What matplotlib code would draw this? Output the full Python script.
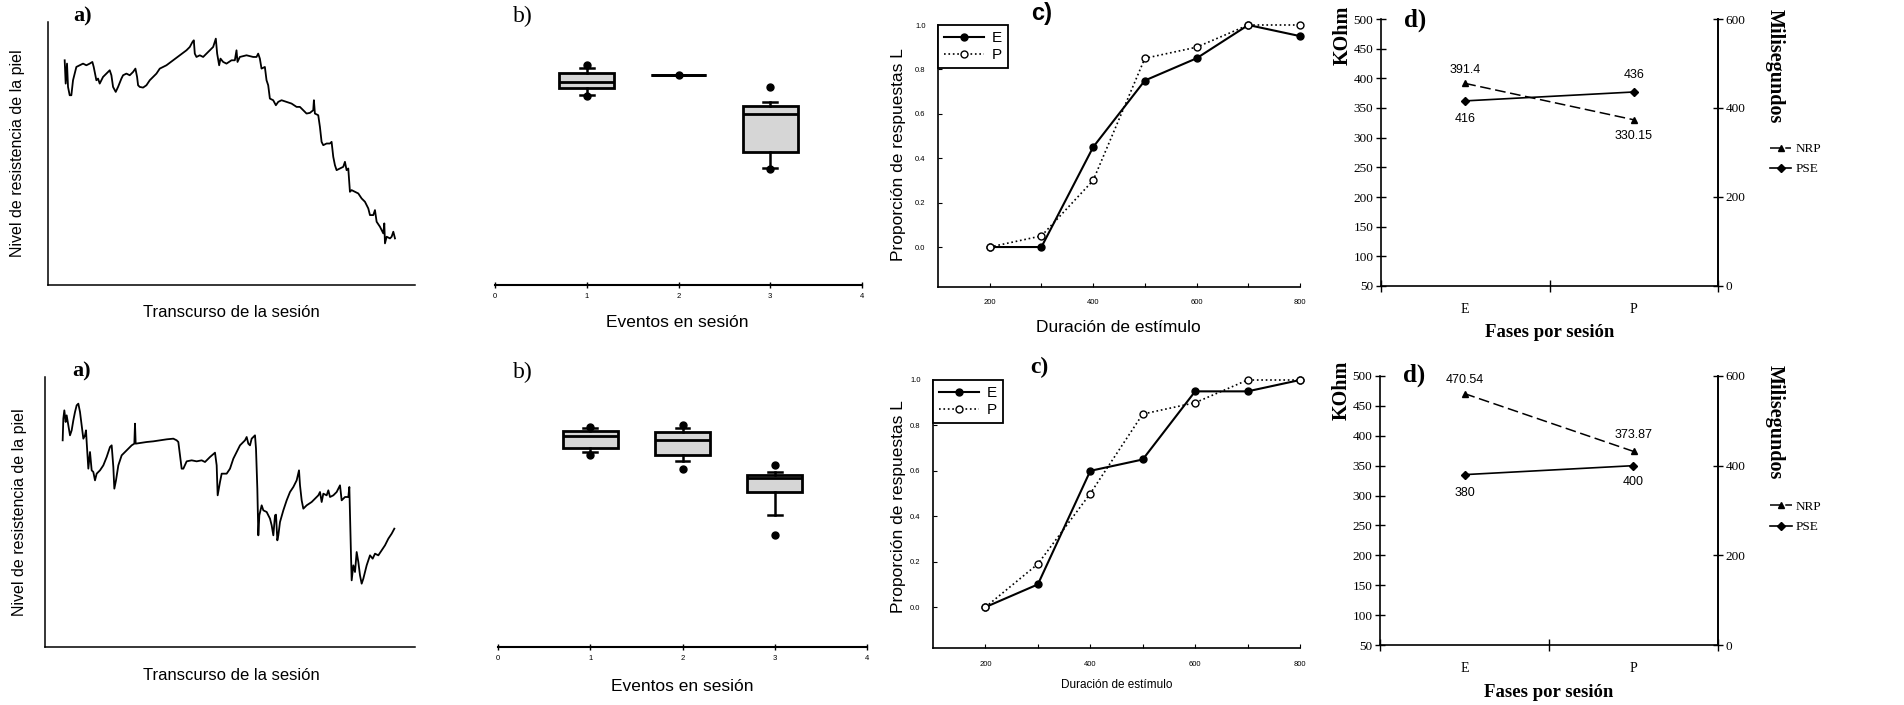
import matplotlib
matplotlib.use('Agg')
import matplotlib.pyplot as plt
import numpy as np

SANS = ['Liberation Sans', 'DejaVu Sans']
SERIF = ['Liberation Serif', 'DejaVu Serif']
plt.rcParams['font.family'] = SANS

# ---------------- data ----------------
# a) skin resistance trace (arbitrary units read off the picture)
trace1_x = [50, 53, 57, 60, 65, 70, 75, 85, 95, 105, 115, 125, 133, 137, 145, 150, 155, 165, 175, 185, 190, 195, 203, 210,
            220, 225, 235, 245, 255, 262, 267, 270, 275, 285, 295, 305, 325, 335, 355, 375, 395, 415, 425, 433, 437, 440,
            445, 455, 465, 475, 495, 503, 507, 513, 517, 525, 535, 550, 560, 565, 568, 575, 595, 615, 625, 630, 635, 640,
            650, 655, 660, 665, 675, 683, 690, 700, 715, 730, 745, 755, 765, 775, 785, 795, 797, 800, 810, 815, 820, 825,
            835, 845, 850, 855, 860, 865, 875, 885, 890, 895, 900, 905, 910, 920, 930, 940, 950, 960, 965, 975, 980, 985,
            995, 1005, 1008, 1010, 1015, 1025, 1030, 1035, 1040]
trace1_y = [675, 605, 665, 595, 570, 570, 615, 655, 660, 665, 660, 665, 670, 655, 615, 620, 605, 625, 635, 645, 630, 595,
            580, 595, 620, 630, 635, 630, 640, 650, 625, 600, 595, 593, 600, 615, 635, 650, 660, 675, 690, 705, 715, 730,
            735, 695, 685, 690, 685, 695, 715, 740, 695, 660, 680, 670, 665, 675, 675, 705, 670, 685, 690, 685, 685, 695,
            680, 650, 655, 615, 600, 560, 555, 540, 550, 555, 550, 545, 535, 535, 525, 515, 517, 525, 555, 515, 510, 475,
            430, 420, 425, 425, 430, 385, 360, 345, 350, 355, 370, 345, 350, 280, 285, 280, 275, 260, 250, 230, 210, 210,
            225, 190, 175, 155, 185, 125, 145, 140, 145, 160, 140]
trace2_x = [53, 55, 58, 62, 65, 70, 75, 80, 85, 90, 95, 100, 105, 110, 115, 120, 123, 125, 130, 135, 140, 145, 150, 155,
            165, 175, 185, 195, 200, 205, 208, 213, 220, 230, 245, 260, 268, 270, 272, 285, 305, 325, 345, 365, 385, 395,
            400, 405, 410, 415, 425, 440, 455, 470, 480, 495, 510, 515, 518, 525, 530, 545, 555, 565, 585, 600, 605, 610,
            615, 620, 630, 633, 637, 640, 643, 650, 655, 665, 675, 680, 685, 690, 693, 697, 700, 705, 715, 725, 735, 745,
            755, 762, 765, 770, 775, 785, 800, 810, 820, 825, 830, 835, 845, 850, 855, 865, 875, 885, 890, 900, 910, 913,
            915, 918, 920, 925, 930, 935, 940, 945, 950, 955, 965, 975, 983, 990, 1000, 1010, 1020, 1030, 1040, 1048]
trace2_y = [620, 685, 710, 675, 695, 665, 635, 650, 680, 705, 725, 730, 705, 665, 625, 635, 650, 615, 535, 585, 530, 525,
            500, 520, 530, 545, 570, 600, 605, 540, 475, 500, 545, 575, 590, 605, 610, 670, 610, 612, 615, 617, 620, 623,
            625, 620, 615, 575, 535, 535, 557, 560, 557, 560, 555, 570, 583, 545, 455, 495, 520, 520, 535, 565, 605, 620,
            630, 610, 605, 625, 635, 595, 475, 335, 395, 425, 410, 405, 385, 365, 335, 395, 397, 320, 335, 375, 410, 440,
            465, 480, 500, 530, 485, 440, 415, 425, 435, 445, 455, 465, 435, 460, 455, 470, 450, 455, 465, 485, 440, 450,
            450, 480, 395, 275, 200, 245, 225, 285, 255, 215, 190, 205, 245, 275, 265, 280, 275, 290, 305, 325, 340, 355]

# b) box plots: events in session
events = [1, 2, 3]
b1_q1 = [0.749, 0.798, 0.506]
b1_med = [0.772, 0.798, 0.650]
b1_q3 = [0.806, 0.798, 0.681]
b1_lo = [0.722, 0.798, 0.445]
b1_hi = [0.825, 0.798, 0.696]
b1_fliers = [[0.835, 0.718], [0.798], [0.753, 0.440]]
b2_q1 = [0.737, 0.711, 0.574]
b2_med = [0.781, 0.767, 0.626]
b2_q3 = [0.800, 0.796, 0.637]
b2_lo = [0.722, 0.689, 0.489]
b2_hi = [0.811, 0.810, 0.648]
b2_fliers = [[0.815, 0.711], [0.822, 0.659], [0.674, 0.415]]
b_ticks = [0, 1, 2, 3, 4]

# c) proportion of L responses vs stimulus duration
duration = [200, 300, 400, 500, 600, 700, 800]
c1_E = [0.0, 0.0, 0.45, 0.75, 0.85, 1.0, 0.95]
c1_P = [0.0, 0.05, 0.30, 0.85, 0.90, 1.0, 1.0]
c2_E = [0.0, 0.10, 0.60, 0.65, 0.95, 0.95, 1.0]
c2_P = [0.0, 0.19, 0.50, 0.85, 0.90, 1.0, 1.0]

# d) phases per session
phases = ['E', 'P']
d1_nrp = [391.4, 330.15]
d1_pse = [416, 436]
d1_nrp_lbl = ['391.4', '330.15']
d1_pse_lbl = ['416', '436']
d2_nrp = [470.54, 373.87]
d2_pse = [380, 400]
d2_nrp_lbl = ['470.54', '373.87']
d2_pse_lbl = ['380', '400']

# ---------------- layout ----------------
W, H = 1904, 705
fig = plt.figure(figsize=(W / 100, H / 100), dpi=100)


def rect(l, t, r, b):
    return [l / W, 1 - b / H, (r - l) / W, (b - t) / H]


def panel_a(pos, x, y, xlim, ylim, lblxy, ylc, xlc):
    ax = fig.add_axes(pos)
    ax.plot(x, y, color='black', lw=1.3)
    ax.set_xlim(*xlim)
    ax.set_ylim(*ylim)
    ax.set_xticks([])
    ax.set_yticks([])
    for s in ['top', 'right']:
        ax.spines[s].set_visible(False)
    for s in ['left', 'bottom']:
        ax.spines[s].set_linewidth(1.1)
    ax.set_ylabel('Nivel de resistencia de la piel', fontsize=11.5, va='center')
    ax.yaxis.set_label_coords(*ylc)
    ax.set_xlabel('Transcurso de la sesión', fontsize=12, va='center')
    ax.xaxis.set_label_coords(*xlc)
    ax.text(lblxy[0], lblxy[1], 'a)', transform=ax.transAxes, fontsize=16, fontweight='bold',
            family=SERIF, ha='center', va='center')
    return ax


panel_a(rect(48, 22, 415, 285), trace1_x, trace1_y, (0, 1100), (0, 790), (0.093, 1.02), (-0.082, 0.5), (0.5, -0.106))
panel_a(rect(45, 377, 415, 647), trace2_x, trace2_y, (0, 1110), (0, 810), (0.10, 1.02), (-0.068, 0.5), (0.505, -0.104))


def panel_b(pos, q1, med, q3, lo, hi, fl, lblxy, xlc):
    ax = fig.add_axes(pos)
    stats = []
    for i in range(len(events)):
        stats.append(dict(q1=q1[i], med=med[i], q3=q3[i], whislo=lo[i], whishi=hi[i], fliers=fl[i]))
    ax.bxp(stats, positions=events, widths=0.6, patch_artist=True, capwidths=0.15,
           boxprops=dict(facecolor='#d6d6d6', edgecolor='black', lw=2),
           medianprops=dict(color='black', lw=2),
           whiskerprops=dict(color='black', lw=1.8),
           capprops=dict(color='black', lw=1.8),
           flierprops=dict(marker='o', markerfacecolor='black', markeredgecolor='black', markersize=5),
           manage_ticks=False)
    ax.set_xlim(0, 4)
    ax.set_ylim(0, 1)
    ax.set_xticks(b_ticks)
    ax.set_xticklabels([str(t) for t in b_ticks], fontsize=5.5)
    ax.set_yticks([])
    for s in ['top', 'right', 'left']:
        ax.spines[s].set_visible(False)
    ax.spines['bottom'].set_linewidth(1.5)
    ax.tick_params(axis='x', direction='inout', length=5, width=1, pad=3)
    ax.set_xlabel('Eventos en sesión', fontsize=12.5, va='center')
    ax.xaxis.set_label_coords(*xlc)
    ax.text(lblxy[0], lblxy[1], 'b)', transform=ax.transAxes, fontsize=17,
            family=SERIF, ha='center', va='center')


panel_b(rect(495, 22, 862, 285), b1_q1, b1_med, b1_q3, b1_lo, b1_hi, b1_fliers, (0.076, 1.02), (0.496, -0.144))
panel_b(rect(498, 377, 867, 647), b2_q1, b2_med, b2_q3, b2_lo, b2_hi, b2_fliers, (0.068, 1.015), (0.50, -0.148))


def panel_c(pos, E, P, lblxy, lbl_family, ylc, xlc, xl_size):
    ax = fig.add_axes(pos)
    ax.plot(duration, E, '-o', color='black', mfc='black', ms=5, lw=1.5, label='E', clip_on=False, zorder=3)
    ax.plot(duration, P, ':o', color='black', mfc='white', ms=5, lw=1.2, label='P', clip_on=False, zorder=4)
    ax.set_xlim(100, 800)
    ax.set_ylim(-0.18, 1.0)
    ax.set_xticks([200, 400, 600, 800])
    ax.set_xticks([300, 500, 700], minor=True)
    ax.set_yticks([0.0, 0.2, 0.4, 0.6, 0.8, 1.0])
    ax.set_yticklabels(['0.0', '0.2', '0.4', '0.6', '0.8', '1.0'], fontsize=5.5)
    ax.set_xticklabels(['200', '400', '600', '800'], fontsize=5.5)
    ax.tick_params(axis='both', which='both', direction='in', length=3, width=0.8, pad=9)
    for s in ['top', 'right']:
        ax.spines[s].set_visible(False)
    for s in ['left', 'bottom']:
        ax.spines[s].set_linewidth(1.2)
    leg = ax.legend(loc='upper left', bbox_to_anchor=(0, 1), borderaxespad=0, fontsize=11,
                    fancybox=False, edgecolor='black', framealpha=1, handlelength=2.6,
                    borderpad=0.4, labelspacing=0.2, handletextpad=0.5)
    leg.get_frame().set_linewidth(1.3)
    ax.set_ylabel('Proporción de respuestas L', fontsize=12.5, va='center')
    ax.yaxis.set_label_coords(*ylc)
    ax.set_xlabel('Duración de estímulo', fontsize=xl_size, va='center')
    ax.xaxis.set_label_coords(*xlc)
    ax.text(lblxy[0], lblxy[1], 'c)', transform=ax.transAxes, fontsize=17, fontweight='bold',
            family=lbl_family, ha='center', va='center')


panel_c(rect(938, 25, 1300, 287), c1_E, c1_P, (0.287, 1.042), SANS, (-0.11, 0.504), (0.497, -0.156), 12.5)
panel_c(rect(933, 380, 1300, 648), c2_E, c2_P, (0.29, 1.045), SERIF, (-0.095, 0.526), (0.50, -0.138), 8.5)


def panel_d(pos, nrp, pse, nrp_lbl, pse_lbl, nrp_off, pse_off, lbly):
    ax = fig.add_axes(pos)
    xs = np.arange(len(phases)) + 0.5
    l1, = ax.plot(xs, nrp, color='black', lw=1.1, ls=(0, (7, 3)), marker='^', ms=5, label='NRP', clip_on=False)
    ax.set_xlim(0, 2)
    ax.set_ylim(50, 500)
    ax.set_yticks(np.arange(50, 501, 50))
    ax.set_yticklabels([str(v) for v in range(50, 501, 50)], family=SERIF, fontsize=9.5)
    ax.set_xticks([0, 1, 2])
    ax.set_xticklabels(['', '', ''])
    ax.set_xticks(xs, minor=True)
    ax.set_xticklabels(phases, minor=True, family=SERIF, fontsize=10)
    ax.tick_params(axis='x', which='minor', length=0, pad=12)
    ax.tick_params(axis='x', which='major', direction='inout', length=8, width=1)
    ax.tick_params(axis='y', direction='inout', length=7, width=1, pad=2)
    ax.spines['top'].set_visible(False)
    ax.spines['right'].set_visible(False)
    for s in ['left', 'bottom']:
        ax.spines[s].set_linewidth(1.2)
    ax2 = ax.twinx()
    l2, = ax2.plot(xs, pse, color='black', lw=1.2, ls='-', marker='D', ms=4.5, label='PSE', clip_on=False)
    ax2.set_ylim(0, 600)
    ax2.set_yticks([0, 200, 400, 600])
    ax2.set_yticklabels(['0', '200', '400', '600'], family=SERIF, fontsize=9.5)
    ax2.tick_params(axis='y', direction='inout', length=7, width=1, pad=2)
    for s in ['top', 'left', 'bottom']:
        ax2.spines[s].set_visible(False)
    ax2.spines['right'].set_linewidth(1.4)
    for i in range(len(phases)):
        ax.annotate(nrp_lbl[i], (xs[i], nrp[i]), textcoords='offset points', xytext=(0, nrp_off[i]),
                    ha='center', va='center', fontsize=9)
        ax2.annotate(pse_lbl[i], (xs[i], pse[i]), textcoords='offset points', xytext=(0, pse_off[i]),
                     ha='center', va='center', fontsize=9)
    ax.text(-0.113, lbly[0], 'KOhm', transform=ax.transAxes, rotation=90, family=SERIF, fontsize=14.5,
            fontweight='bold', ha='center', va='center')
    ax.text(1.169, lbly[1], 'Milisegundos', transform=ax.transAxes, rotation=-90, family=SERIF, fontsize=14.5,
            fontweight='bold', ha='center', va='center')
    ax.set_xlabel('Fases por sesión', family=SERIF, fontsize=13.5, fontweight='bold', va='center')
    ax.xaxis.set_label_coords(0.5, -0.176)
    ax.text(0.10, lbly[2], 'd)', transform=ax.transAxes, family=SERIF, fontsize=18, fontweight='bold',
            ha='center', va='center')
    ax.legend(handles=[l1, l2], loc='upper left', bbox_to_anchor=(1.12, 0.58), frameon=False,
              prop={'family': SERIF, 'size': 9.5}, handlelength=1.6, handletextpad=0.3, labelspacing=0.6)


panel_d(rect(1381, 19, 1718, 286), d1_nrp, d1_pse, d1_nrp_lbl, d1_pse_lbl, (10, -12), (-13, 12), (0.94, 0.824, 0.996))
panel_d(rect(1380, 376, 1718, 645), d2_nrp, d2_pse, d2_nrp_lbl, d2_pse_lbl, (10, 12), (-13, -12), (0.948, 0.829, 1.004))

fig.savefig('out.png', dpi=100)
